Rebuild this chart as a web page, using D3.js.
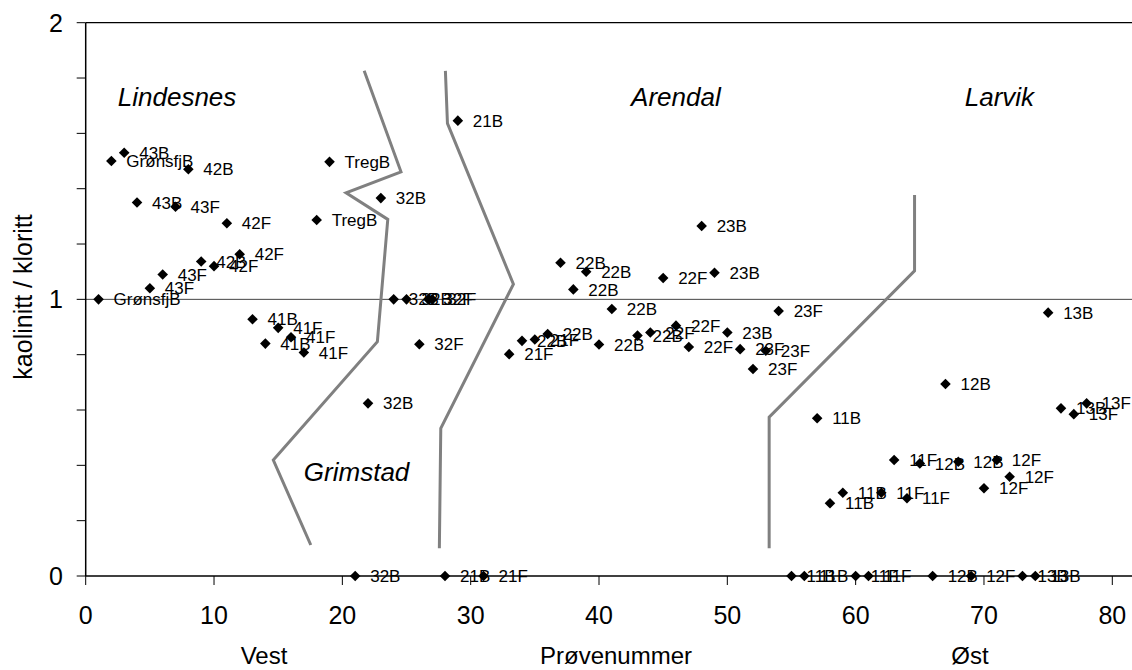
<!DOCTYPE html>
<html>
<head>
<meta charset="utf-8">
<script src="https://cdn.jsdelivr.net/npm/d3@7"></script>
<style>
  body { margin: 0; background: #fff; }
  svg { font-family: Arial, "Liberation Sans", sans-serif; }
</style>
</head>
<body>
<div id="chart"></div>
<script>
// sample number (x), kaolinitt/kloritt ratio (y), sample label
let sampleNo = [1, 2, 3, 4, 5, 6, 7, 8, 9, 10, 11, 12, 13, 14, 15, 16, 17, 18, 19,
  21, 22, 23, 24, 25, 26, 26.7, 27, 28, 29, 31, 33, 34, 35, 36, 37, 38, 39, 40, 41,
  43, 44, 45, 46, 47, 48, 49, 50, 51, 52, 53, 54, 55, 56, 57, 58, 59, 60, 61, 62,
  63, 64, 65, 66, 67, 68, 69, 70, 71, 72, 73, 74, 75, 76, 77, 78];
let ratio = [1.00, 1.50, 1.53, 1.35, 1.04, 1.09, 1.335, 1.47, 1.137, 1.12, 1.275, 1.163,
  0.928, 0.84, 0.897, 0.863, 0.808, 1.287, 1.497,
  0, 0.624, 1.366, 1.00, 1.00, 0.838, 1.00, 1.00, 0, 1.646, 0, 0.802, 0.85, 0.855, 0.875,
  1.132, 1.036, 1.10, 0.837, 0.965, 0.869, 0.88, 1.077, 0.905, 0.828, 1.265, 1.096, 0.88,
  0.82, 0.748, 0.814, 0.958, 0, 0, 0.57, 0.263, 0.301, 0, 0, 0.301, 0.419, 0.281, 0.407,
  0, 0.694, 0.413, 0, 0.317, 0.419, 0.359, 0, 0, 0.952, 0.606, 0.585, 0.624];
let labels = ["GrønsfjB", "GrønsfjB", "43B", "43B", "43F", "43F", "43F", "42B", "42B", "42F",
  "42F", "42F", "41B", "41B", "41F", "41F", "41F", "TregB", "TregB",
  "32B", "32B", "32B", "32B", "32B", "32F", "32F", "32F", "21B", "21B", "21F", "21F", "22B",
  "21F", "22B", "22B", "22B", "22B", "22B", "22B", "22B", "22F", "22F", "22F", "22F", "23B",
  "23B", "23B", "23F", "23F", "23F", "23F", "11B", "11B", "11B", "11B", "11B", "11F", "11F",
  "11F", "11F", "11F", "12B", "12B", "12B", "12B", "12F", "12F", "12F", "12F", "13B", "13B",
  "13B", "13B", "13F", "13F"];

// region boundaries drawn on the chart
let borderLindesnes = [[21.7, 1.826], [24.57, 1.461], [20.29, 1.385], [23.54, 1.289],
  [22.73, 0.847], [14.62, 0.419], [17.54, 0.112]];
let borderGrimstad = [[28.03, 1.826], [28.19, 1.636], [33.33, 1.055], [27.67, 0.534], [27.56, 0.10]];
let borderArendal = [[64.59, 1.377], [64.59, 1.103], [53.26, 0.574], [53.26, 0.10]];

let regionNames = ["Lindesnes", "Grimstad", "Arendal", "Larvik"];
let regionX = [2.5, 17.0, 42.5, 68.5];
let regionY = [1.70, 0.345, 1.70, 1.70];

let xTicks = [0, 10, 20, 30, 40, 50, 60, 70, 80];
let yTicks = [0, 0.2, 0.4, 0.6, 0.8, 1, 1.2, 1.4, 1.6, 1.8, 2];
let yLabels = [0, 1, 2];

let width = 1132, height = 670;
let plotLeft = 85.7, plotRight = 1112.3, plotTop = 22.7, plotBottom = 576;

let x = d3.scaleLinear().domain([0, 80]).range([plotLeft, plotRight]);
let y = d3.scaleLinear().domain([0, 2]).range([plotBottom, plotTop]);

let svg = d3.select("#chart").append("svg")
  .attr("width", width)
  .attr("height", height);

svg.append("rect").attr("width", width).attr("height", height).attr("fill", "#fff");

// gridlines at 1 and 2
svg.append("line")
  .attr("x1", plotLeft).attr("x2", width)
  .attr("y1", y(1)).attr("y2", y(1))
  .attr("stroke", "#444").attr("stroke-width", 1);
svg.append("line")
  .attr("x1", plotLeft).attr("x2", width)
  .attr("y1", y(2)).attr("y2", y(2))
  .attr("stroke", "#000").attr("stroke-width", 1.3);

// y axis
let yAxis = svg.append("g");
yAxis.append("line")
  .attr("x1", plotLeft).attr("x2", plotLeft)
  .attr("y1", plotTop).attr("y2", plotBottom)
  .attr("stroke", "#000").attr("stroke-width", 1.5);
yAxis.selectAll("line.tick")
  .data(yTicks)
  .enter().append("line")
  .attr("class", "tick")
  .attr("x1", plotLeft - 9).attr("x2", plotLeft)
  .attr("y1", d => y(d)).attr("y2", d => y(d))
  .attr("stroke", "#000").attr("stroke-width", 1);
yAxis.selectAll("text")
  .data(yLabels)
  .enter().append("text")
  .attr("x", 63)
  .attr("y", d => y(d))
  .attr("dy", "0.36em")
  .attr("text-anchor", "end")
  .style("font-size", "25px")
  .text(d => d);

// x axis
let xAxis = svg.append("g");
xAxis.append("line")
  .attr("x1", plotLeft).attr("x2", width)
  .attr("y1", plotBottom).attr("y2", plotBottom)
  .attr("stroke", "#000").attr("stroke-width", 1.5);
xAxis.selectAll("line.tick")
  .data(xTicks)
  .enter().append("line")
  .attr("class", "tick")
  .attr("x1", d => x(d)).attr("x2", d => x(d))
  .attr("y1", plotBottom).attr("y2", plotBottom + 9)
  .attr("stroke", "#000").attr("stroke-width", 1);
xAxis.selectAll("text")
  .data(xTicks)
  .enter().append("text")
  .attr("x", d => x(d))
  .attr("y", 624)
  .attr("text-anchor", "middle")
  .style("font-size", "25px")
  .text(d => d);

// axis titles
let titleTexts = ["Vest", "Prøvenummer", "Øst"];
let titleX = [264, 616, 970];
svg.selectAll("text.xtitle")
  .data(titleTexts)
  .enter().append("text")
  .attr("class", "xtitle")
  .attr("x", (d, i) => titleX[i])
  .attr("y", 664)
  .attr("text-anchor", "middle")
  .style("font-size", "24px")
  .text(d => d);

svg.append("text")
  .attr("transform", "translate(32,297) rotate(-90)")
  .attr("text-anchor", "middle")
  .style("font-size", "25px")
  .text("kaolinitt / kloritt");

// boundary lines
let line = d3.line().x(d => x(d[0])).y(d => y(d[1]));
[borderLindesnes, borderGrimstad, borderArendal].forEach(function(b) {
  svg.append("path")
    .attr("d", line(b))
    .attr("fill", "none")
    .attr("stroke", "#808080")
    .attr("stroke-width", 3);
});

// region names
svg.selectAll("text.region")
  .data(regionNames)
  .enter().append("text")
  .attr("class", "region")
  .attr("x", (d, i) => x(regionX[i]))
  .attr("y", (d, i) => y(regionY[i]))
  .style("font-size", "26px")
  .style("font-style", "italic")
  .text(d => d);

// points
let points = sampleNo.map((s, i) => ({ x: s, y: ratio[i], label: labels[i] }));

svg.selectAll("path.point")
  .data(points)
  .enter().append("path")
  .attr("class", "point")
  .attr("d", d3.symbol(d3.symbolSquare, 56))
  .attr("transform", d => "translate(" + x(d.x) + "," + y(d.y) + ") rotate(45)")
  .attr("fill", "#000");

svg.selectAll("text.label")
  .data(points)
  .enter().append("text")
  .attr("class", "label")
  .attr("x", d => x(d.x) + 15)
  .attr("y", d => y(d.y))
  .attr("dy", "0.36em")
  .style("font-size", "17px")
  .text(d => d.label);
</script>
</body>
</html>
